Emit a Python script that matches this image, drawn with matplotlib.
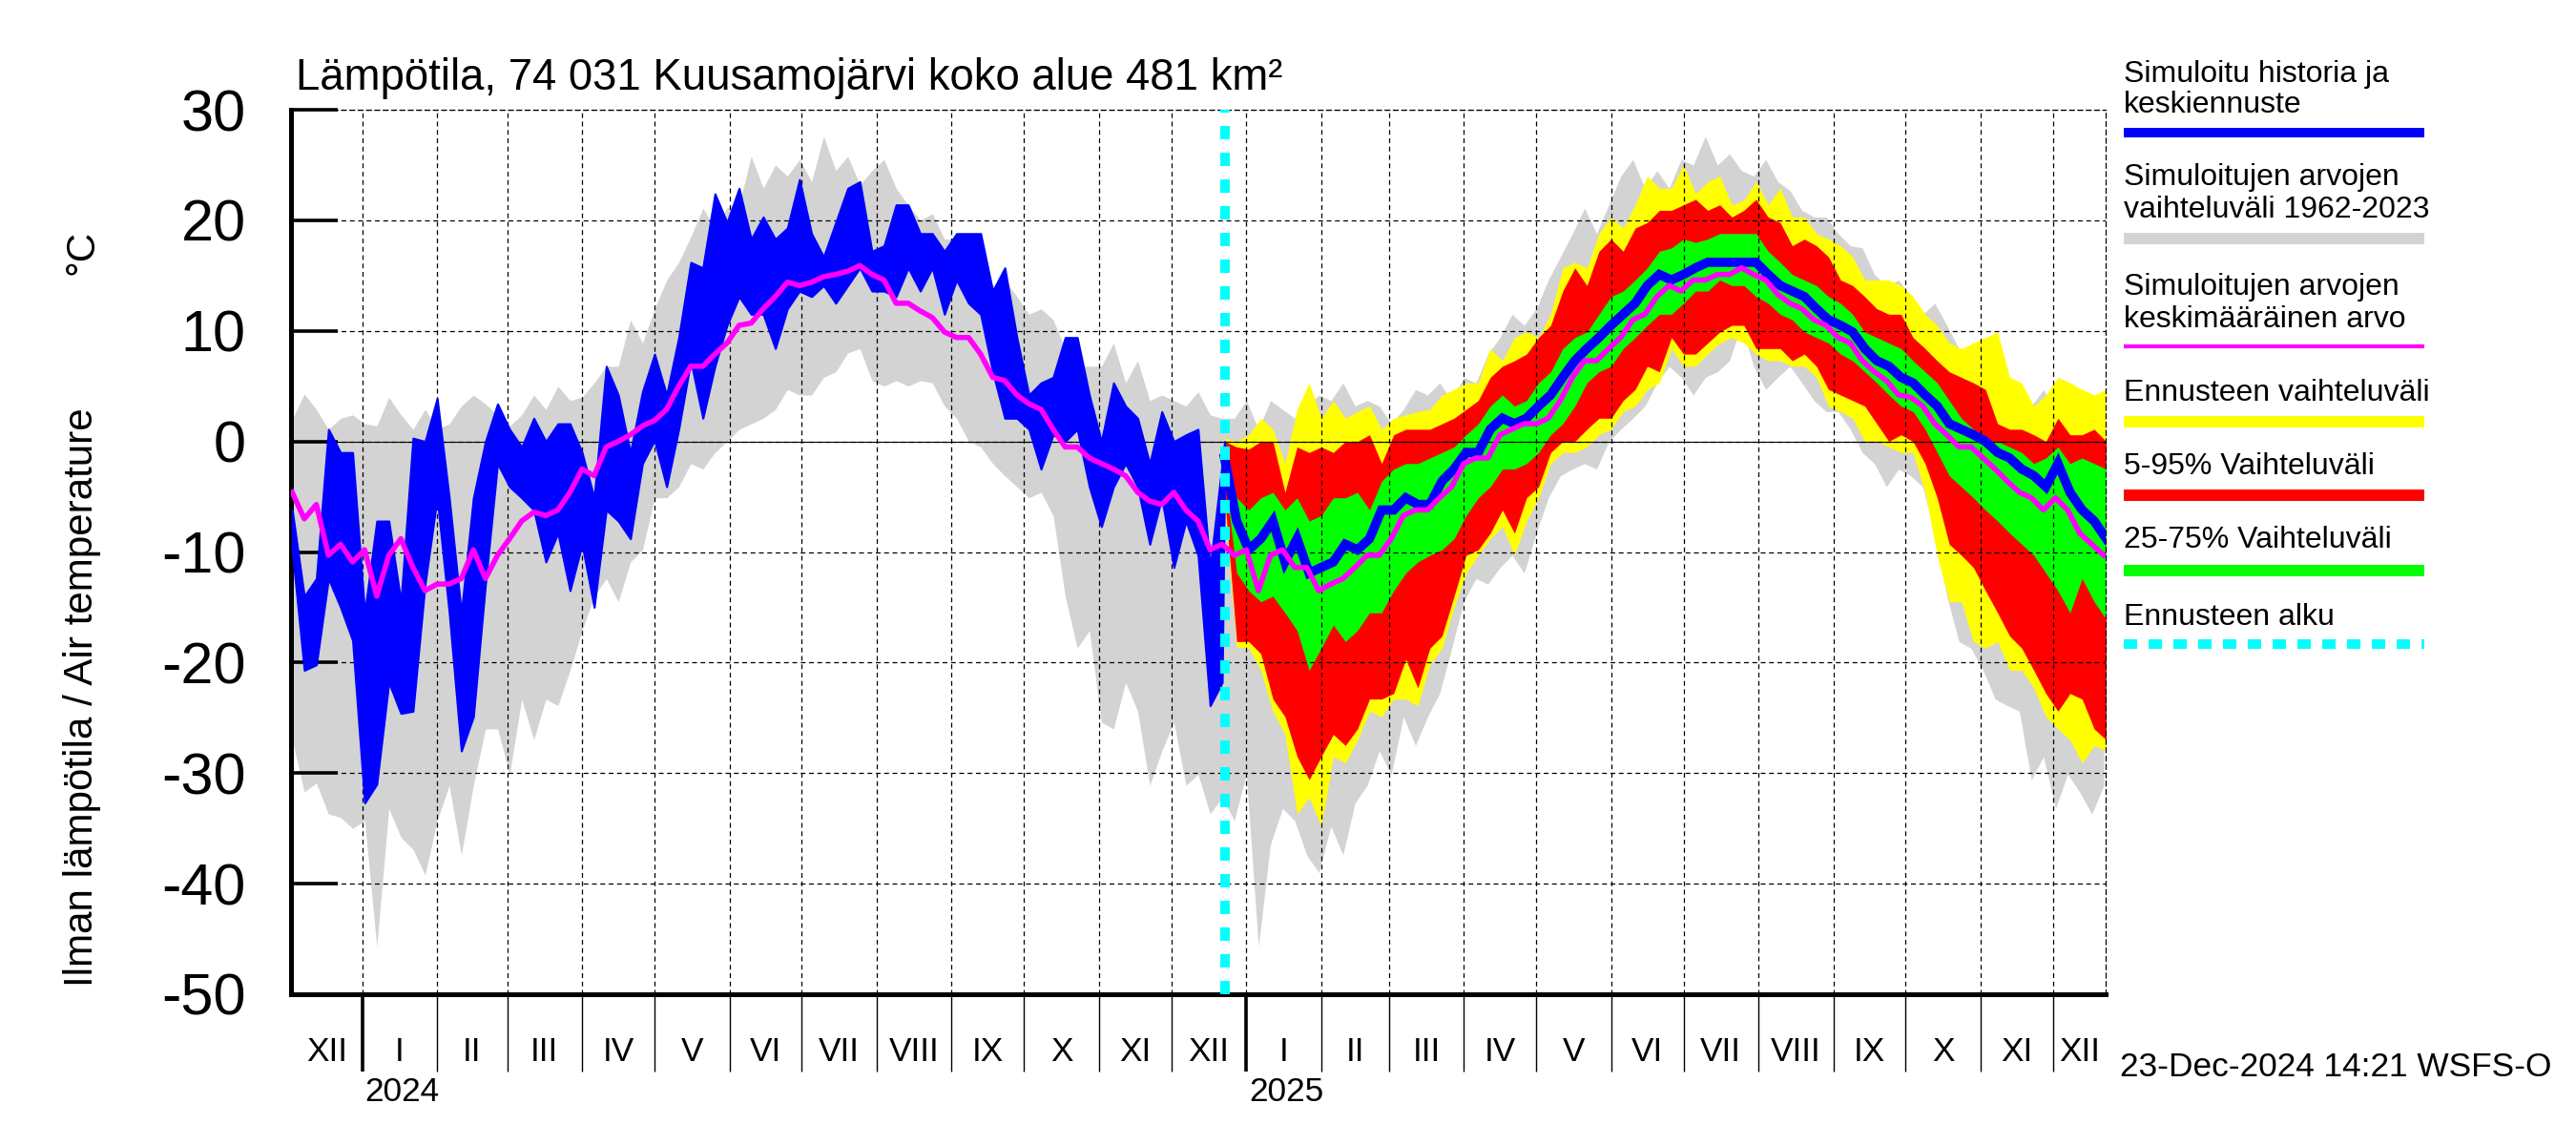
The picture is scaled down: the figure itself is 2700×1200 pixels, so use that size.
import numpy as np
import matplotlib
matplotlib.use("Agg")
import matplotlib.pyplot as plt
from matplotlib import font_manager as fm
from matplotlib.lines import Line2D

# ---------------- data ----------------
CLIM_START = np.datetime64("2023-12-03")   # 5-day grid for climatology series
HIST_END = np.datetime64("2024-12-23")     # forecast start
STEP = np.timedelta64(5, "D")

gray_hi = [
    2.0, 4.3, 2.9, 1.1, 2.1, 2.4, 1.6, 1.4, 4.0, 2.4, 1.1, 2.9, 1.1, 1.6, 3.2, 4.2, 3.4, 2.4, 1.4, 2.4,
    4.2, 2.9, 5.0, 3.7, 4.0, 5.3, 6.8, 6.8, 11.0, 8.9, 12.0, 14.6, 16.2, 18.5, 21.1, 19.3, 21.1, 21.4, 25.8, 22.9,
    25.0, 24.0, 25.5, 23.5, 27.6, 24.5, 25.8, 23.2, 24.5, 25.5, 22.9,
    21.4, 20.0, 20.6, 18.3, 18.3, 17.2, 15.7, 14.1, 14.6, 13.1, 11.5, 12.0, 11.0, 8.4, 6.8, 6.8, 6.8, 8.9, 5.3, 7.3,
    3.7, 4.2, 3.7, 3.2, 4.5, 2.4, 2.1, 2.1, 3.7, 1.1, 3.7, 2.9, 2.1, 3.2, 4.2, 3.7, 5.3, 3.2, 3.7, 3.2,
    1.6, 2.9, 4.7, 4.2, 5.3, 3.7, 5.8, 5.3, 7.9, 9.4, 11.5,
    10.5, 12.0, 14.6, 16.7, 18.8, 21.1, 18.8, 21.4, 24.0, 25.5, 22.9, 24.5, 22.9, 25.5, 25.0, 27.6, 25.0, 26.0, 24.5, 24.0,
    25.5, 23.5, 22.7, 20.9, 20.3, 20.3, 18.8, 17.7, 17.5, 15.1, 14.1, 14.6, 13.1, 11.5, 12.5, 10.5, 8.4, 7.3, 6.8, 7.9,
    5.3, 4.7, 3.2, 4.7, 2.7, 3.7, 2.2, 2.7, 1.6,
]
gray_lo = [
    -27.0, -31.7, -30.9, -33.7, -34.0, -35.0, -34.3, -45.7, -33.2, -35.8, -36.9, -39.2, -34.3, -31.1, -37.4, -31.1, -26.0, -26.0, -30.1, -23.3,
    -27.0, -23.3, -23.9, -20.7, -17.1, -14.0, -12.4, -14.5, -10.9, -9.8, -5.1, -5.1, -4.1, -2.0, -2.5, -1.0, 0.0, 1.1, 1.6, 2.1,
    2.9, 4.7, 4.2, 4.2, 5.8, 6.3, 8.0, 8.4, 5.5, 5.0, 5.5,
    5.0, 5.5, 5.3, 3.2, 2.1, 0.0, -0.5, -2.0, -3.1, -4.1, -5.1, -4.6, -6.7, -14.0, -18.7, -17.1, -25.4, -26.0, -21.8, -24.4,
    -31.1, -28.0, -25.4, -31.1, -30.1, -33.7, -32.2, -34.3, -30.1, -45.7, -36.4, -33.2, -34.3, -37.4, -39.0, -34.8, -37.4, -32.7, -31.1, -28.0,
    -30.1, -24.9, -27.5, -24.9, -22.8, -18.7, -14.5, -12.4, -12.9, -11.4, -10.3,
    -11.9, -8.3, -5.1, -3.1, -2.5, -2.0, -2.5, 0.0, 1.1, 2.1, 3.2, 5.3, 6.8, 5.8, 4.2, 5.8, 6.3, 7.3, 10.5, 6.8,
    4.7, 5.8, 6.8, 5.3, 3.7, 2.7, 2.7, 1.1, -1.0, -2.0, -4.1, -2.5, -3.1, -4.1, -8.3, -14.0, -18.1, -18.7, -20.7, -23.3,
    -23.9, -24.4, -30.6, -28.5, -33.2, -30.1, -31.7, -33.7, -31.1,
]
mean_sim = [
    -4.6, -7.0, -5.7, -10.3, -9.3, -10.9, -9.8, -14.0, -10.3, -8.8, -11.4, -13.5, -12.9, -12.9, -12.4, -9.8, -12.4, -10.3, -8.8, -7.2,
    -6.4, -6.7, -6.2, -4.6, -2.5, -3.1, -0.5, 0.0, 0.6, 1.4, 1.9, 2.9, 5.0, 6.8, 6.8, 7.9, 8.9, 10.5, 10.7, 12.0,
    13.1, 14.4, 14.1, 14.4, 14.9, 15.1, 15.4, 15.9, 15.1, 14.6, 12.5,
    12.5, 11.8, 11.2, 9.9, 9.4, 9.4, 7.9, 5.8, 5.5, 4.2, 3.4, 2.9, 1.1, -0.5, -0.5, -1.5, -2.0, -2.5, -3.1, -4.6,
    -5.4, -5.7, -4.6, -6.2, -7.2, -9.8, -9.3, -10.3, -9.8, -13.5, -10.3, -9.8, -11.4, -11.4, -13.5, -12.9, -12.4, -11.4, -10.3, -10.3,
    -8.8, -6.7, -6.2, -6.2, -5.1, -4.1, -2.0, -1.5, -1.5, 0.6, 1.1,
    1.6, 1.6, 2.1, 3.7, 5.8, 7.3, 7.3, 8.4, 9.4, 11.0, 11.5, 13.1, 14.1, 13.6, 14.6, 14.6, 15.1, 15.1, 15.7, 15.1,
    14.6, 13.3, 12.5, 12.0, 11.0, 10.5, 9.4, 8.9, 7.3, 6.3, 5.5, 4.2, 4.0, 3.2, 1.6, 0.6, -0.5, -0.5, -1.5, -2.5,
    -3.6, -4.6, -5.1, -6.2, -5.1, -6.2, -8.3, -9.3, -10.3,
]

hist_hi = [
    -6.2, -14.0, -12.4, 1.1, -1.0, -1.0, -15.5, -7.2, -7.2, -14.5, 0.3, 0.0, 3.9, -5.1, -15.5, -5.1, 0.0, 3.4, 1.1, -0.5,
    2.1, 0.0, 1.6, 1.6, -1.0, -5.1, 6.8, 4.2, -1.0, 4.5, 7.9, 4.2, 9.4, 16.2, 15.7, 22.4, 19.8, 22.9, 18.3, 20.3,
    18.3, 19.3, 23.7, 18.8, 16.7, 19.8, 22.9, 23.5, 17.2, 17.7, 21.4,
    21.4, 18.8, 18.8, 17.2, 18.8, 18.8, 18.8, 13.6, 15.7, 9.4, 4.2, 5.3, 5.8, 9.4, 9.4, 4.2, 0.0, 5.3, 3.2, 2.1,
    -2.0, 2.7, 0.0, 0.6, 1.1, -11.4, -2.0, 0.0,
]
hist_lo = [
    -9.8, -20.7, -20.2, -12.4, -15.0, -18.0, -32.7, -31.0, -21.8, -24.6, -24.4, -12.9, -5.1, -15.5, -28.0, -24.9, -12.9, -2.0, -4.1, -5.1,
    -6.2, -10.9, -8.3, -13.5, -9.3, -15.0, -6.2, -7.2, -8.8, -2.0, 0.1, -4.1, 1.1, 7.3, 2.1, 6.8, 10.5, 13.1, 11.5, 11.5,
    8.4, 12.0, 13.6, 13.1, 14.1, 12.5, 14.1, 15.7, 13.6, 13.6, 13.1,
    15.7, 13.6, 15.7, 11.5, 14.6, 12.5, 11.5, 6.3, 2.1, 2.1, 1.1, -2.5, 0.6, 0.0, 1.1, -4.1, -7.7, -4.1, -2.0, -4.1,
    -9.3, -5.1, -11.4, -7.2, -10.3, -23.9, -21.8, -3.0,
]

fc_yellow_hi = [
    0.3, 0.0, 0.6, 2.1, 1.1, -2.0, 2.9, 5.3, 2.1, 3.7, 2.1, 2.7, 3.2, 1.1, 2.1, 2.4, 2.7, 2.9, 4.2, 4.7, 5.3, 5.3, 8.4, 7.3,
    9.4, 9.9, 9.4, 11.5, 15.7, 16.2, 15.7, 18.8, 20.3, 19.3, 21.4, 24.0, 22.9, 22.9, 25.0, 22.4, 23.5, 24.0, 21.4, 21.8,
    23.5, 21.4, 22.9, 20.3, 20.3, 18.8, 18.3, 17.7, 16.7, 14.6, 14.6, 14.6, 14.1, 13.1, 11.5, 10.5, 8.9, 8.4, 8.9, 9.4,
    9.9, 5.8, 5.3, 3.2, 4.2, 5.8, 5.3, 4.7, 4.2, 4.7,
]
fc_red_hi = [
    0.0, -0.5, -0.7, 0.0, 0.0, -4.6, -0.5, -1.0, -0.5, -1.0, 0.0, 0.0, 0.6, -2.0, 0.6, 1.1, 1.1, 1.1, 1.6, 2.1, 2.9, 3.7, 5.8, 6.8,
    7.3, 7.9, 9.4, 10.5, 13.6, 15.7, 14.1, 17.2, 18.3, 17.2, 19.3, 19.8, 20.9, 20.9, 21.4, 21.9, 20.9, 21.4, 20.3, 20.9,
    21.9, 20.3, 19.8, 17.7, 18.3, 17.7, 16.7, 14.6, 14.1, 13.1, 12.0, 11.5, 11.5, 9.4, 8.4, 7.3, 6.3, 5.8, 5.3, 4.7,
    1.6, 1.1, 1.1, 0.6, 0.0, 2.1, 0.6, 0.6, 1.1, 0.0,
]
fc_green_hi = [
    -1.0, -5.1, -6.2, -5.1, -4.6, -6.2, -5.1, -7.2, -6.7, -5.1, -5.1, -4.6, -6.2, -3.6, -2.5, -2.0, -2.0, -1.5, -1.0, -0.5, 0.6, 1.6, 3.2, 4.2,
    3.2, 3.7, 5.3, 6.3, 8.4, 9.4, 9.9, 11.5, 13.1, 13.6, 14.6, 15.7, 17.2, 17.5, 18.3, 18.0, 18.3, 18.8, 18.8, 18.8,
    18.8, 17.2, 16.2, 15.1, 14.6, 14.1, 13.1, 12.5, 11.5, 9.9, 9.4, 8.9, 8.4, 7.3, 6.3, 5.3, 3.7, 2.1, 1.1, 0.0,
    0.0, -0.5, -1.0, -2.0, -1.5, -0.5, -2.0, -1.5, -2.0, -2.5,
]
fc_median = [
    -1.5, -7.2, -9.8, -8.8, -7.2, -10.9, -8.8, -11.9, -11.4, -10.9, -9.3, -9.8, -8.8, -6.2, -6.2, -5.1, -5.7, -5.7, -3.6, -2.5, -1.0, -1.0, 1.1, 2.1,
    1.6, 2.1, 3.2, 4.2, 5.8, 7.3, 8.4, 9.4, 10.5, 11.5, 12.5, 14.1, 15.1, 14.6, 15.1, 15.7, 16.2, 16.2, 16.2, 16.2,
    16.2, 15.1, 14.1, 13.6, 13.1, 12.0, 11.0, 10.5, 9.9, 8.4, 7.3, 6.8, 5.8, 5.3, 4.2, 3.2, 1.6, 1.1, 0.6, 0.0,
    -1.0, -1.5, -2.5, -3.1, -4.1, -2.0, -4.6, -6.2, -7.2, -8.8,
]
fc_green_lo = [
    -3.0, -11.9, -13.5, -14.5, -14.0, -15.5, -17.1, -20.7, -18.7, -16.6, -18.1, -17.1, -15.5, -15.5, -13.5, -11.9, -10.9, -10.3, -9.8, -8.8, -6.7, -5.1, -4.1, -2.5,
    -2.5, -2.0, -1.0, 0.6, 1.6, 3.2, 5.3, 6.3, 6.8, 8.4, 9.4, 10.5, 11.5, 11.5, 12.5, 13.6, 13.6, 14.6, 14.1, 14.1,
    13.1, 12.5, 11.5, 11.0, 9.9, 9.4, 8.9, 7.9, 7.3, 6.3, 5.3, 4.2, 3.2, 2.7, 1.1, -1.0, -3.1, -4.1, -5.1, -6.2,
    -7.2, -8.3, -9.3, -10.3, -11.9, -13.5, -15.5, -12.4, -14.5, -16.1,
]
fc_red_lo = [
    -5.0, -18.1, -18.1, -19.2, -23.3, -24.9, -28.5, -30.6, -28.5, -26.5, -27.5, -26.0, -23.3, -23.3, -22.8, -19.7, -22.3, -18.7, -17.6, -14.0, -10.3, -9.8, -8.3, -6.2,
    -8.3, -5.1, -4.1, -1.0, 0.0, 0.0, 1.1, 2.1, 2.1, 3.7, 4.7, 6.8, 6.3, 9.4, 7.9, 7.9, 8.9, 9.9, 10.5, 10.5,
    8.4, 8.4, 8.4, 7.3, 7.9, 6.8, 4.7, 4.2, 3.7, 3.2, 1.6, 0.0, 0.6, 0.0, -2.0, -5.1, -9.3, -10.3, -11.4, -13.5,
    -15.5, -17.6, -18.7, -20.7, -22.8, -24.4, -22.8, -23.3, -26.0, -27.0,
]
fc_yellow_lo = [
    -6.0, -18.6, -18.7, -20.7, -24.4, -26.5, -33.7, -32.2, -34.8, -28.5, -29.1, -27.0, -24.4, -24.9, -23.3, -23.3, -23.9, -20.2, -18.7, -15.0, -11.9, -10.3, -8.8, -7.7,
    -10.3, -7.2, -5.1, -2.0, -1.0, -1.0, -0.5, 0.6, 1.1, 2.7, 3.2, 4.7, 5.3, 8.4, 6.8, 6.8, 7.9, 8.9, 9.4, 8.9,
    7.9, 7.3, 7.3, 6.8, 6.8, 5.8, 3.2, 2.7, 2.1, 0.0, 0.0, -0.5, -1.0, -1.0, -4.6, -10.3, -14.5, -14.5, -18.1, -18.7,
    -18.1, -20.7, -20.7, -22.3, -24.9, -26.0, -27.0, -29.1, -27.5, -28.0,
]

ROMAN = ["I", "II", "III", "IV", "V", "VI", "VII", "VIII", "IX", "X", "XI", "XII"]
Y_TICKS = [-50, -40, -30, -20, -10, 0, 10, 20, 30]

TITLE = "Lämpötila, 74 031 Kuusamojärvi koko alue 481 km²"
YLABEL = "Ilman lämpötila / Air temperature"
UNIT = "°C"
STAMP = "23-Dec-2024 14:21 WSFS-O"
LEGEND = [
    (["Simuloitu historia ja", "keskiennuste"], "#0000ff", 7.2, "solid"),
    (["Simuloitujen arvojen", "vaihteluväli 1962-2023"], "#d3d3d3", 8.6, "solid"),
    (["Simuloitujen arvojen", "keskimääräinen arvo"], "#ff00ff", 3.0, "solid"),
    (["Ennusteen vaihteluväli"], "#ffff00", 8.6, "solid"),
    (["5-95% Vaihteluväli"], "#ff0000", 8.6, "solid"),
    (["25-75% Vaihteluväli"], "#00ff00", 8.6, "solid"),
    (["Ennusteen alku"], "#00ffff", 7.2, "dashed"),
]

# ---------------- dates ----------------
clim_dates = CLIM_START + np.arange(len(gray_hi)) * STEP
hist_dates = np.append(clim_dates[: len(hist_hi) - 1], HIST_END)
fc_dates = HIST_END + np.arange(len(fc_median)) * STEP

# ---------------- fonts ----------------
names = {f.name for f in fm.fontManager.ttflist}
if "Liberation Sans Narrow" in names:
    NARROW, NS = ["Liberation Sans Narrow", "DejaVu Sans"], 1.0
else:
    NARROW, NS = ["Liberation Sans", "DejaVu Sans"], 0.82
WIDE = ["Liberation Sans", "DejaVu Sans"]

W, H = 2700, 1200
fig = plt.figure(figsize=(27, 12), dpi=100)
fx = lambda px: px / W
fy = lambda px: 1 - px / H

AX_L, AX_R, AX_T, AX_B = 305, 2207, 115, 1042
ax = fig.add_axes([fx(AX_L), fy(AX_B), fx(AX_R - AX_L), (AX_B - AX_T) / H])

# ---------------- plot ----------------
ax.fill_between(clim_dates, gray_lo, gray_hi, color="#d3d3d3", lw=0, zorder=1)
ax.fill_between(fc_dates, fc_yellow_lo, fc_yellow_hi, color="#ffff00", lw=0, zorder=1.1)
ax.fill_between(fc_dates, fc_red_lo, fc_red_hi, color="#ff0000", lw=0, zorder=1.2)
ax.fill_between(fc_dates, fc_green_lo, fc_green_hi, color="#00ff00", lw=0, zorder=1.3)
ax.fill_between(hist_dates, hist_lo, hist_hi, color="#0000ff", edgecolor="#0000ff", lw=1.5, zorder=3)
ax.plot(fc_dates, fc_median, color="#0000ff", lw=7, zorder=3, solid_joinstyle="miter")
ax.plot(clim_dates, mean_sim, color="#ff00ff", lw=4, zorder=3.5)
ax.axhline(0, color="black", lw=0.8, zorder=2.6)
ax.axvline(HIST_END, color="#00ffff", lw=7.2, linestyle=(0, (1.4, 1.4)), zorder=4)

x0 = np.datetime64("2023-12-02T12")
x1 = np.datetime64("2025-12-22T18")
ax.set_xlim(x0, x1)
ax.set_ylim(-50, 30)

# month / year ticks
month_starts = np.arange(np.datetime64("2024-01"), np.datetime64("2026-01"), np.timedelta64(1, "M")).astype("datetime64[D]")
year_starts = [m for m in month_starts if str(m).endswith("-01-01")]
other_months = [m for m in month_starts if not str(m).endswith("-01-01")]
ax.set_xticks(year_starts)
ax.set_xticks(other_months, minor=True)
ax.set_xticklabels([])
ax.tick_params(axis="x", which="major", direction="out", length=58, width=2.6, labelbottom=False)
ax.tick_params(axis="x", which="minor", direction="out", length=58, width=1.0, labelbottom=False)

ax.set_yticks(Y_TICKS)
ax.set_yticklabels([str(v) for v in Y_TICKS], fontfamily=WIDE, fontsize=44)
ax.tick_params(axis="y", direction="in", length=35, width=2.6, pad=34)

ax.set_axisbelow(False)
ax.grid(True, axis="x", which="both", color="black", lw=0.9, linestyle=(0, (4, 3)))
ax.grid(True, axis="y", which="major", color="black", lw=0.9, linestyle=(0, (4, 3)))

for s in ("left", "bottom"):
    ax.spines[s].set_linewidth(3.6)
for s in ("top", "right"):
    ax.spines[s].set_linewidth(0.9)
    ax.spines[s].set_linestyle((0, (4, 3)))

# month labels centred in visible part of each month
trans = ax.get_xaxis_transform()
edges = np.arange(np.datetime64("2023-12"), np.datetime64("2026-01"), np.timedelta64(1, "M")).astype("datetime64[D]")
for m0 in edges:
    m1 = (m0.astype("datetime64[M]") + np.timedelta64(1, "M")).astype("datetime64[D]")
    a = max(m0.astype("datetime64[h]"), x0.astype("datetime64[h]"))
    b = min(m1.astype("datetime64[h]"), x1.astype("datetime64[h]"))
    mid = a + (b - a) / 2
    lab = ROMAN[int(str(m0)[5:7]) - 1]
    ax.text(mid, -(1102 - AX_B) / (AX_B - AX_T), lab, transform=trans, ha="center", va="center",
            fontsize=31 * NS, fontfamily=NARROW, clip_on=False)
for ys in year_starts:
    ax.text(ys + np.timedelta64(1, "D"), -(1145 - AX_B) / (AX_B - AX_T), str(ys)[:4], transform=trans,
            ha="left", va="center", fontsize=31 * NS, fontfamily=NARROW, clip_on=False)

# ---------------- texts ----------------
fig.text(fx(310), fy(94), TITLE, fontsize=40 * NS, fontfamily=NARROW, ha="left", va="baseline")
fig.text(fx(86), fy(731), YLABEL, rotation=90, fontsize=37 * NS, fontfamily=NARROW, ha="center", va="center")
fig.text(fx(86), fy(264), UNIT, rotation=90, fontsize=37 * NS, fontfamily=NARROW, ha="center", va="center")
fig.text(fx(2222), fy(1119), STAMP, fontsize=31 * NS, fontfamily=NARROW, ha="left", va="center")

# legend (manual, right side)
LX0, LX1 = 2226, 2541
text_base = [[86, 118], [194, 228], [309, 343], [420], [497], [574], [655]]
line_y = [139, 250, 363, 442, 519, 598, 675]
for (lines, col, lw, ls), tb, ly in zip(LEGEND, text_base, line_y):
    for t, yb in zip(lines, tb):
        fig.text(fx(LX0), fy(yb), t, fontsize=23, fontfamily=WIDE, ha="left", va="baseline")
    lstyle = (0, (1.4, 1.2)) if ls == "dashed" else "-"
    fig.add_artist(Line2D([fx(LX0), fx(LX1)], [fy(ly), fy(ly)], transform=fig.transFigure,
                          color=col, lw=lw, linestyle=lstyle, solid_capstyle="butt", dash_capstyle="butt"))

fig.savefig("out.png", dpi=100)
